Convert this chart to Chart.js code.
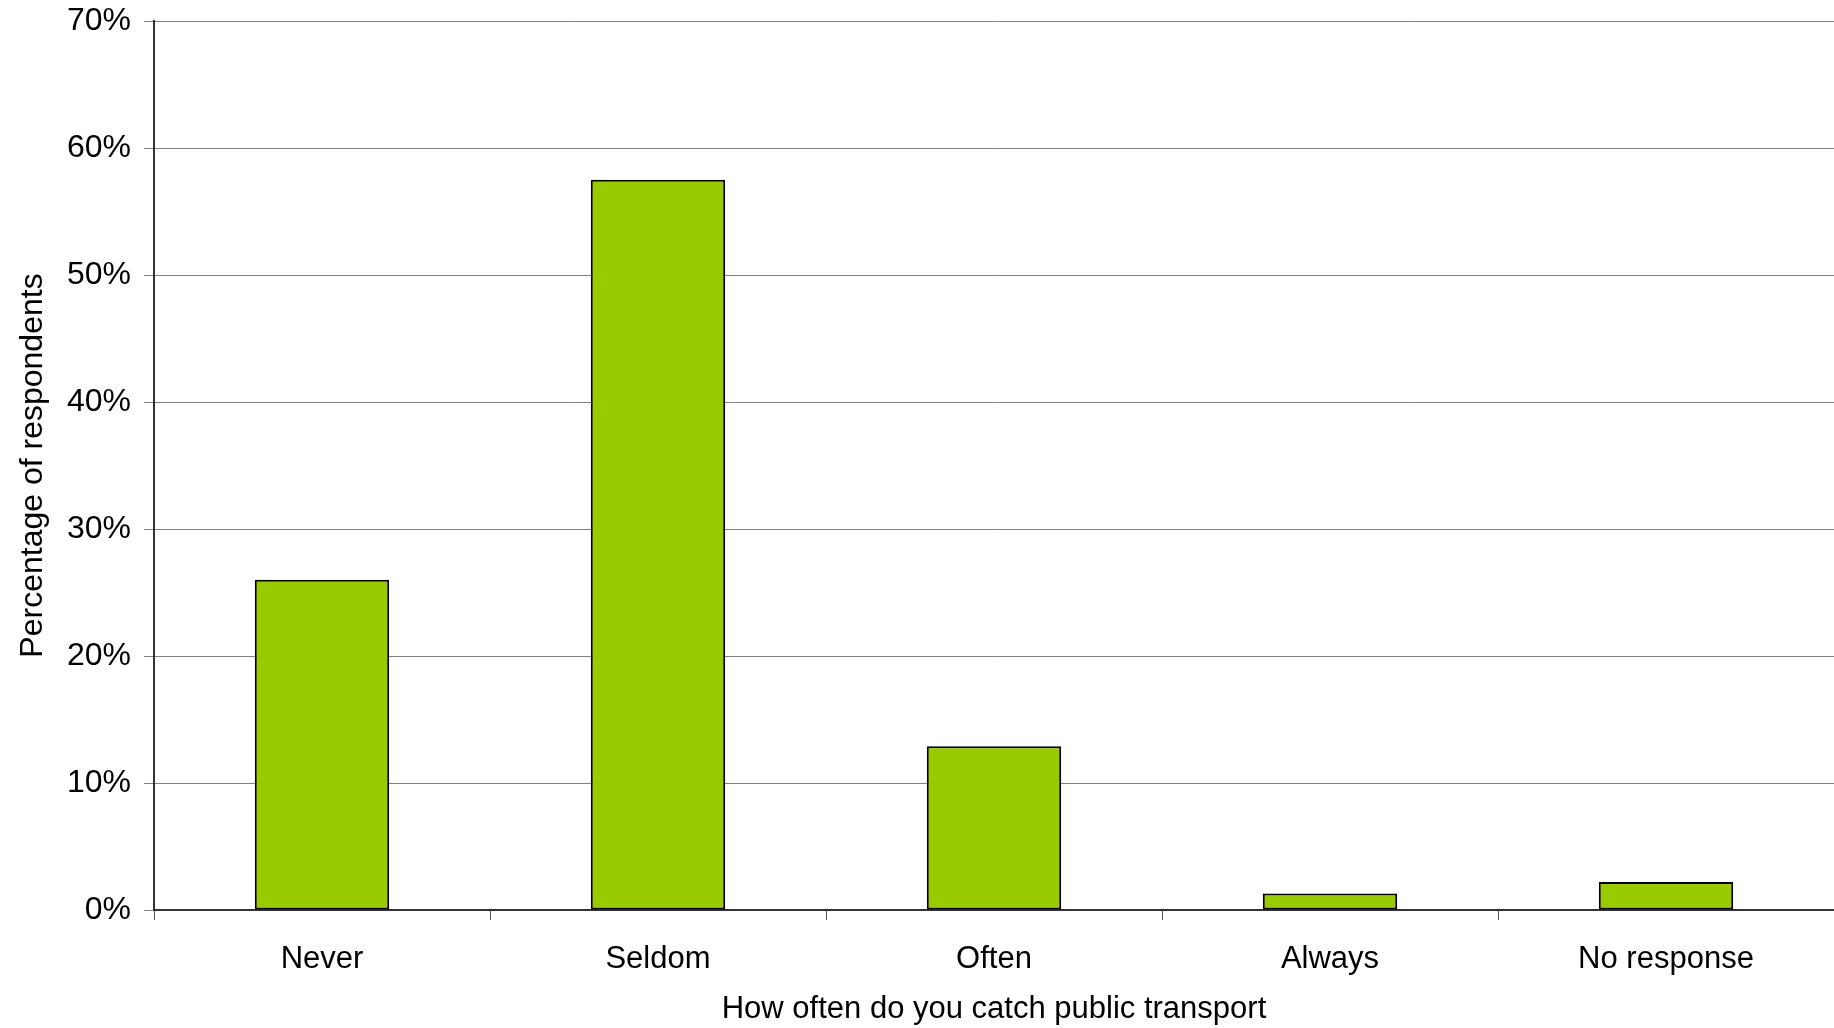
<!DOCTYPE html>
<html>
<head>
<meta charset="utf-8">
<script src="https://cdn.jsdelivr.net/npm/chart.js@4.4.1/dist/chart.umd.min.js"></script>
<style>
  html, body { margin: 0; padding: 0; background: #fff; }
  #wrap { width: 1834px; height: 1028px; }
</style>
</head>
<body>
<div id="wrap"><canvas id="chart" width="1834" height="1028"></canvas></div>
<script>
'use strict';

// ── data ──
const categories = ['Never', 'Seldom', 'Often', 'Always', 'No response'];
const percentages = [26.0, 57.5, 12.9, 1.3, 2.2];
const yTicks = [0, 10, 20, 30, 40, 50, 60, 70];

const FONT = "'Liberation Sans', Arial, sans-serif";

new Chart(document.getElementById('chart'), {
    type: 'bar',
    data: {
        labels: categories,
        datasets: [{
            data: percentages,
            backgroundColor: '#99cc00',
            borderColor: '#000',
            borderWidth: 2,
            borderSkipped: false,
            categoryPercentage: 1,
            barPercentage: 0.4
        }]
    },
    options: {
        responsive: false,
        animation: false,
        layout: { padding: { top: 21, right: 0, left: 0, bottom: 0 } },
        plugins: { legend: { display: false }, tooltip: { enabled: false } },
        scales: {
            x: {
                grid: { offset: true, drawOnChartArea: false, drawTicks: true, tickLength: 10, color: '#555', lineWidth: 1 },
                border: { color: '#333', width: 2 },
                ticks: { color: '#000', font: { family: FONT, size: 31 }, padding: 21, maxRotation: 0 },
                title: { display: true, text: 'How often do you catch public transport',
                    color: '#000', font: { family: FONT, size: 31 }, padding: { top: 0, bottom: 0 } },
                afterFit: s => { s.height = 118; s.paddingLeft = 0; s.paddingRight = 0; }
            },
            y: {
                min: 0, max: 70,
                afterBuildTicks: s => { s.ticks = yTicks.map(v => ({ value: v })); },
                grid: { color: '#808080', lineWidth: 1, drawTicks: true, tickLength: 10 },
                border: { color: '#333', width: 2 },
                ticks: { color: '#000', font: { family: FONT, size: 32 }, padding: 13,
                    callback: v => v + '%' },
                title: { display: true, text: 'Percentage of respondents',
                    color: '#000', font: { family: FONT, size: 32 }, padding: { top: 14, bottom: 0 } },
                afterFit: s => { s.width = 154; s.paddingTop = 0; s.paddingBottom = 0; }
            }
        }
    }
});
</script>
</body>
</html>
